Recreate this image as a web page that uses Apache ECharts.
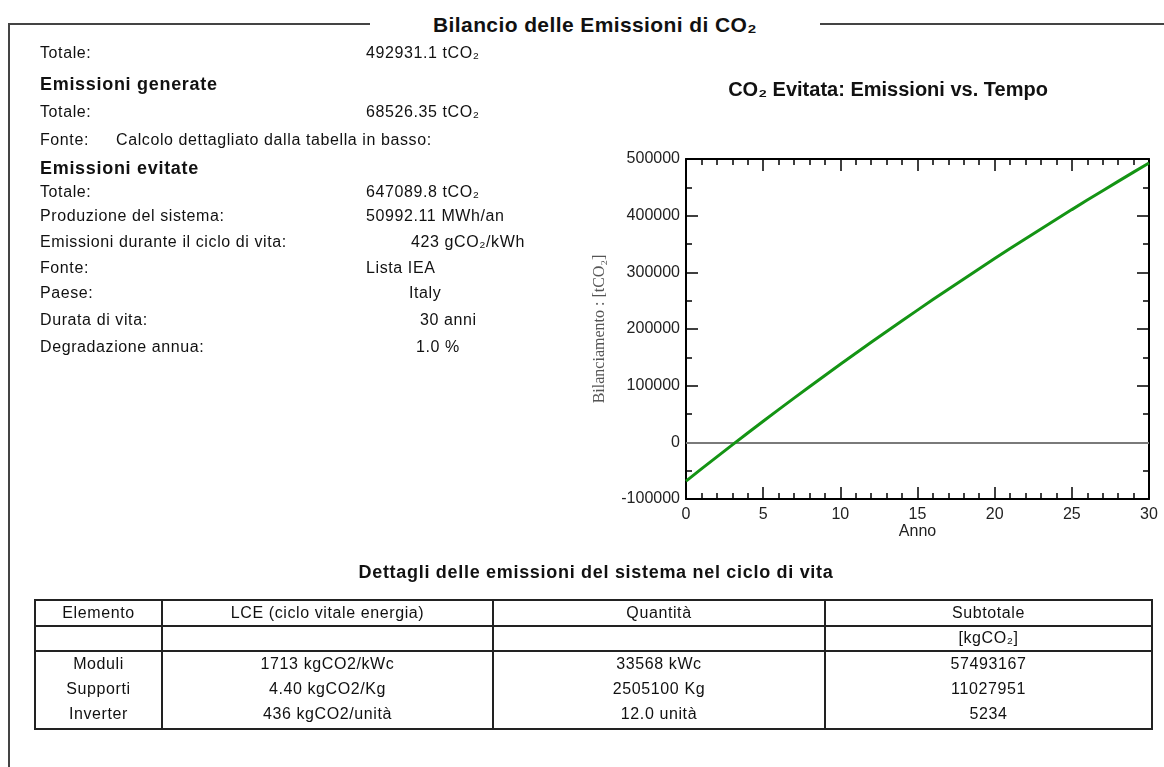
<!DOCTYPE html>
<html>
<head>
<meta charset="utf-8">
<script src="https://cdn.jsdelivr.net/npm/echarts@6/dist/echarts.min.js"></script>
<style>
html,body{margin:0;padding:0;background:#fff;}
body{width:1164px;height:767px;position:relative;overflow:hidden;font-family:'Liberation Sans',Arial,sans-serif;color:#111;}
#chart{position:absolute;left:0;top:0;width:1164px;height:767px;}
#frame{position:absolute;left:8px;top:23px;width:1200px;height:800px;border-top:2px solid #444;border-left:2px solid #444;}
#title{position:absolute;left:370px;width:450px;top:10px;height:30px;line-height:30px;background:#fff;text-align:center;font-weight:bold;font-size:21px;letter-spacing:0.4px;}
.t{position:absolute;white-space:nowrap;font-size:16px;letter-spacing:0.6px;height:24px;line-height:24px;}
.b{font-weight:bold;font-size:18px;letter-spacing:0.7px;}
.c{text-align:center;}
.hl{position:absolute;background:#222;height:2px;}
.vl{position:absolute;background:#222;width:2px;}
</style>
</head>
<body>
<div id="frame"></div>
<div id="title">Bilancio delle Emissioni di CO₂</div>
<div id="chart"></div>
<div id="txt"></div>
<script>
// ---------- DATA ----------
const years = [0,1,2,3,4,5,6,7,8,9,10,11,12,13,14,15,16,17,18,19,20,21,22,23,24,25,26,27,28,29,30];
const balance = [-68526,-46957,-25602,-4462,16467,37187,57699,78006,98110,118013,137718,157226,176537,195657,214584,233324,251875,270241,288422,306422,324243,341884,359349,376641,393759,410706,427483,444091,460535,476814,492931];
const yTicks = [-100000,0,100000,200000,300000,400000,500000];
const xTicks = [0,5,10,15,20,25,30];

const pageTitle = 'Bilancio delle Emissioni di CO₂';
const chartTitle = 'CO₂ Evitata: Emissioni vs. Tempo';
const xName = 'Anno';
const yName = 'Bilanciamento : [tCO₂]';

const balanceLabel = 'Totale:';
const balanceValue = '492931.1 tCO₂';
const generatedHeading = 'Emissioni generate';
const generatedLabels = ['Totale:','Fonte:'];
const generatedValues = ['68526.35 tCO₂','Calcolo dettagliato dalla tabella in basso:'];
const avoidedHeading = 'Emissioni evitate';
const avoidedLabels = ['Totale:','Produzione del sistema:','Emissioni durante il ciclo di vita:','Fonte:','Paese:','Durata di vita:','Degradazione annua:'];
const avoidedValues = ['647089.8 tCO₂','50992.11 MWh/an','423 gCO₂/kWh','Lista IEA','Italy','30 anni','1.0 %'];

const tableTitle = 'Dettagli delle emissioni del sistema nel ciclo di vita';
const tableHeader = ['Elemento','LCE (ciclo vitale energia)','Quantità','Subtotale'];
const tableUnits = ['','','','[kgCO₂]'];
const elements = ['Moduli','Supporti','Inverter'];
const lce = ['1713 kgCO2/kWc','4.40 kgCO2/Kg','436 kgCO2/unità'];
const quantity = ['33568 kWc','2505100 Kg','12.0 unità'];
const subtotal = ['57493167','11027951','5234'];

// ---------- LAYOUT (positions only) ----------
const labelX = 40;
const genY = [112,140];
const genValX = [366,116];
const avY = [192,216,242,268,293,320,347];
const avValX = [366,366,411,366,409,420,416];
const colX = [35,162,493,825,1152];
const rowLines = [600,626,651,729];
const dataRowY = [664,689,714];

const txt = document.getElementById('txt');
function put(text, x, cy, cls, align){
  const d = document.createElement('div');
  d.className = 't ' + (cls||'');
  d.textContent = text;
  d.style.top = (cy - 12) + 'px';
  if (align === 'center') { d.style.left = (x - 300) + 'px'; d.style.width = '600px'; d.style.textAlign = 'center'; }
  else d.style.left = x + 'px';
  txt.appendChild(d);
}
document.getElementById('title').textContent = pageTitle;
put(balanceLabel, labelX, 53);
put(balanceValue, 366, 53);
put(generatedHeading, labelX, 84, 'b');
generatedLabels.forEach((l,i)=>{ put(l, labelX, genY[i]); put(generatedValues[i], genValX[i], genY[i]); });
put(avoidedHeading, labelX, 168, 'b');
avoidedLabels.forEach((l,i)=>{ put(l, labelX, avY[i]); put(avoidedValues[i], avValX[i], avY[i]); });

// table
put(tableTitle, 596, 572, 'b', 'center');
function hline(y, x1, x2){ const d=document.createElement('div'); d.className='hl'; d.style.top=(y-1)+'px'; d.style.left=(x1-1)+'px'; d.style.width=(x2-x1+2)+'px'; txt.appendChild(d); }
function vline(x, y1, y2){ const d=document.createElement('div'); d.className='vl'; d.style.left=(x-1)+'px'; d.style.top=(y1-1)+'px'; d.style.height=(y2-y1+2)+'px'; txt.appendChild(d); }
rowLines.forEach(y=>hline(y, colX[0], colX[4]));
colX.forEach(x=>vline(x, rowLines[0], rowLines[3]));
const cols = [elements, lce, quantity, subtotal];
for (let c=0;c<4;c++){
  const cx = (colX[c]+colX[c+1])/2;
  put(tableHeader[c], cx, 613, '', 'center');
  if (tableUnits[c]) put(tableUnits[c], cx, 638, '', 'center');
  cols[c].forEach((v,r)=>put(v, cx, dataRowY[r], '', 'center'));
}

// ---------- CHART ----------
const chart = echarts.init(document.getElementById('chart'), null, {renderer:'canvas'});
const font = 'Liberation Sans';
const axisLine = {show:true, onZero:false, lineStyle:{color:'#000', width:2}};
const tick = {show:true, inside:true, length:12, lineStyle:{color:'#000', width:1.5}};
function minor(n){ return {show:true, splitNumber:n, length:6, lineStyle:{color:'#000', width:1.5}}; }
const option = {
  animation:false,
  backgroundColor:'transparent',
  title:{text:chartTitle, left:888, top:80, padding:0, textAlign:'center',
    textStyle:{fontFamily:font, fontSize:20, fontWeight:'bold', color:'#111'}},
  grid:{left:686, right:15, top:159, bottom:268, containLabel:false, outerBoundsMode:'none'},
  xAxis:[
    {type:'value', min:xTicks[0], max:xTicks[xTicks.length-1], interval:5, axisLine, axisTick:tick, minorTick:minor(5),
     splitLine:{show:false}, axisLabel:{fontFamily:font, fontSize:16, color:'#222', margin:8, showMinLabel:true, showMaxLabel:true},
     name:xName, nameLocation:'middle', nameGap:22, nameTextStyle:{fontFamily:font, fontSize:16, color:'#222'}},
    {type:'value', position:'top', min:xTicks[0], max:xTicks[xTicks.length-1], interval:5, axisLine, axisTick:tick, minorTick:minor(5),
     splitLine:{show:false}, axisLabel:{show:false}}
  ],
  yAxis:[
    {type:'value', min:yTicks[0], max:yTicks[yTicks.length-1], interval:100000, axisLine, axisTick:tick, minorTick:minor(2),
     splitLine:{show:false}, axisLabel:{fontFamily:font, fontSize:16, color:'#222', margin:6, showMinLabel:true, showMaxLabel:true, formatter:v=>String(v)},
     name:yName, nameLocation:'middle', nameGap:78, nameRotate:90, nameTextStyle:{fontFamily:'Liberation Serif', fontSize:16, color:'#555'}},
    {type:'value', position:'right', min:yTicks[0], max:yTicks[yTicks.length-1], interval:100000, axisLine, axisTick:tick, minorTick:minor(2),
     splitLine:{show:false}, axisLabel:{show:false}}
  ],
  series:[{
    type:'line', xAxisIndex:0, yAxisIndex:0,
    data: years.map((y,i)=>[y, balance[i]]),
    showSymbol:false, symbol:'none',
    lineStyle:{color:'#149414', width:3},
    itemStyle:{color:'#149414'},
    z:3,
    markLine:{silent:true, symbol:['none','none'], label:{show:false}, z:1,
      lineStyle:{color:'#7a7a7a', width:2, type:'solid'}, data:[{yAxis:0}]}
  }]
};
chart.setOption(option);
</script>
</body>
</html>
